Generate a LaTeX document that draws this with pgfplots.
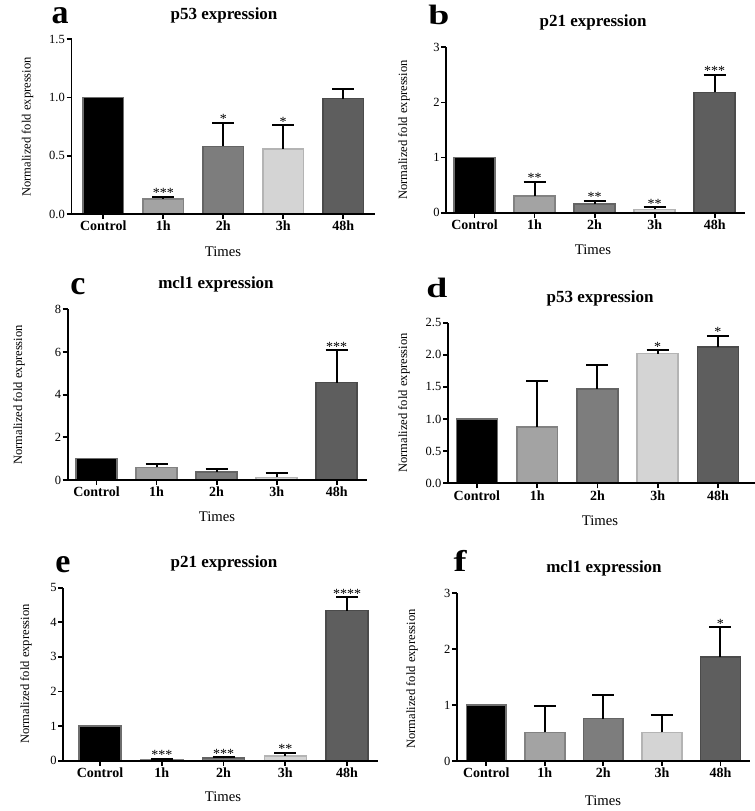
\documentclass[border=0pt]{standalone}
\usepackage{fontspec}
\setmainfont{Liberation Serif}
\usepackage{graphicx}
\usepackage{pgfplots}
\pgfplotsset{compat=1.18}
\usepackage{pgfplotstable}

\definecolor{c0}{HTML}{000000}
\definecolor{c0edge}{HTML}{6E6E6E}
\definecolor{c1}{HTML}{A3A3A3}
\definecolor{c2}{HTML}{7D7D7D}
\definecolor{c3}{HTML}{D4D4D4}
\definecolor{c4}{HTML}{5E5E5E}

\newcommand\fs[1]{\fontsize{#1bp}{#1bp}\selectfont}

% x: 0 Control, 1 1h, 2 2h, 3 3h, 4 48h ; e = upper SD ; s = stars
\pgfplotstableread{
x y e s
0 1.00 0.000 {}
1 0.13 0.015 ***
2 0.58 0.200 *
3 0.56 0.200 *
4 0.99 0.085 {}
}\pa
\pgfplotstableread{
x y e s
0 1.00 0.000 {}
1 0.30 0.260 **
2 0.155 0.055 **
3 0.06 0.037 **
4 2.18 0.320 ***
}\pb
\pgfplotstableread{
x y e s
0 1.00 0.000 {}
1 0.59 0.140 {}
2 0.375 0.155 {}
3 0.125 0.215 {}
4 4.56 1.520 ***
}\pc
\pgfplotstableread{
x y e s
0 1.00 0.000 {}
1 0.88 0.720 {}
2 1.47 0.370 {}
3 2.02 0.050 *
4 2.12 0.170 *
}\pd
\pgfplotstableread{
x y e s
0 1.00 0.000 {}
1 0.02 0.030 ***
2 0.07 0.030 ***
3 0.13 0.090 **
4 4.34 0.380 ****
}\pe
\pgfplotstableread{
x y e s
0 1.00 0.000 {}
1 0.51 0.480 {}
2 0.76 0.420 {}
3 0.51 0.310 {}
4 1.86 0.530 *
}\pf

\pgfplotsset{
  panel/.style={
    scale only axis, anchor=south west,
    axis lines=left, axis line style={-, line width=1.8bp},
    ymin=0, clip=false, axis on top,
    xtick={0,1,2,3,4}, xticklabels={Control,1h,2h,3h,48h},
    tick align=outside, major tick length=5bp,
    tick style={line width=1.8bp, black},
    xticklabel style={font=\fs{14}\bfseries, inner sep=2bp},
    yticklabel style={font=\fs{12.5}, inner sep=1.5bp},
    /pgf/number format/assume math mode=true,
  },
  onedec/.style={yticklabel style={/pgf/number format/.cd, fixed, fixed zerofill, precision=1}},
  barbase/.style={ybar, bar width=0.68, bar shift=0pt, line width=1.6bp},
  errbar/.style={error bars/y dir=plus, error bars/y explicit,
    error bars/error bar style={line width=2bp, black},
    error bars/error mark options={rotate=90, line width=2bp, black, mark size=11bp}},
}

\newcommand\bars[1]{%
  \addplot[barbase, fill=c0, draw=c0edge] table[x=x, y=y, restrict x to domain=0:0] {#1};
  \addplot[barbase, errbar, fill=c1, draw=c1!80!black] table[x=x, y=y, y error=e, restrict x to domain=1:1] {#1};
  \addplot[barbase, errbar, fill=c2, draw=c2!80!black] table[x=x, y=y, y error=e, restrict x to domain=2:2] {#1};
  \addplot[barbase, errbar, fill=c3, draw=c3!85!black] table[x=x, y=y, y error=e, restrict x to domain=3:3] {#1};
  \addplot[barbase, errbar, fill=c4, draw=c4!80!black] table[x=x, y=y, y error=e, restrict x to domain=4:4] {#1};
  \addplot[draw=none, mark=none, nodes near coords, point meta=explicit symbolic,
    nodes near coords style={font=\fs{14}, anchor=south, inner sep=0pt, yshift=-1bp}]
    table[x=x, y expr=\thisrow{y}+\thisrow{e}, meta=s] {#1};
}

\begin{document}
\begin{tikzpicture}[x=1bp, y=1bp]
\path[use as bounding box] (0,0) rectangle (755,811);

% a
\begin{axis}[panel, onedec, at={(71.5bp,597bp)}, width=303.5bp, height=174.7bp,
  xmin=-0.53, xmax=4.53, ymax=1.5, ytick={0,0.5,1,1.5}]
\bars{\pa}
\end{axis}
% b
\begin{axis}[panel, at={(446.3bp,598.3bp)}, width=298.4bp, height=165.4bp,
  xmin=-0.47, xmax=4.5, ymax=3, ytick={0,1,2,3}]
\bars{\pb}
\end{axis}
% c
\begin{axis}[panel, at={(67.7bp,331bp)}, width=299bp, height=170.7bp,
  xmin=-0.48, xmax=4.5, ymax=8, ytick={0,2,4,6,8}]
\bars{\pc}
\end{axis}
% d
\begin{axis}[panel, onedec, at={(448bp,327.7bp)}, width=306.7bp, height=160.6bp,
  xmin=-0.48, xmax=4.61, ymax=2.5, ytick={0,0.5,1,1.5,2,2.5}]
\bars{\pd}
\end{axis}
% e
\begin{axis}[panel, at={(63.3bp,50.3bp)}, width=314.7bp, height=173bp,
  xmin=-0.595, xmax=4.5, ymax=5, ytick={0,1,2,3,4,5}]
\bars{\pe}
\end{axis}
% f
\begin{axis}[panel, at={(457bp,50bp)}, width=292.7bp, height=167.7bp,
  xmin=-0.5, xmax=4.5, ymax=3, ytick={0,1,2,3}]
\bars{\pf}
\end{axis}

% titles
\begin{scope}[every node/.style={font=\fs{17}\bfseries, anchor=base}]
\node at (224,791.5) {p53 expression};
\node at (593,784) {p21 expression};
\node at (216,522) {mcl1 expression};
\node at (600,508) {p53 expression};
\node at (224,243) {p21 expression};
\node at (604,238) {mcl1 expression};
\end{scope}
% panel letters
\begin{scope}[every node/.style={anchor=base, inner sep=0pt}]
\node[font=\fs{34}\bfseries] at (60,787) {a};
\node[font=\fs{28}\bfseries] at (439,786.5) {\scalebox{1.35}[1]{b}};
\node[font=\fs{34}\bfseries] at (78,516) {c};
\node[font=\fs{28}\bfseries] at (437,513.5) {\scalebox{1.35}[1]{d}};
\node[font=\fs{34}\bfseries] at (63,238.5) {e};
\node[font=\fs{30}\bfseries] at (460,239.3) {\scalebox{1.3}[1]{f}};
\end{scope}
% y labels
\begin{scope}[every node/.style={font=\fs{12.6}, rotate=90, anchor=center}]
\node at (27.5,684) {Normalized fold expression};
\node at (404,681) {Normalized fold expression};
\node at (19,416) {Normalized fold expression};
\node at (404,408) {Normalized fold expression};
\node at (26,137) {Normalized fold expression};
\node at (412,132) {Normalized fold expression};
\end{scope}
% x labels
\begin{scope}[every node/.style={font=\fs{14.7}, anchor=base}]
\node at (223,554) {Times};
\node at (593,556) {Times};
\node at (217,289) {Times};
\node at (600,285) {Times};
\node at (223,9) {Times};
\node at (603,5) {Times};
\end{scope}
\end{tikzpicture}
\end{document}
